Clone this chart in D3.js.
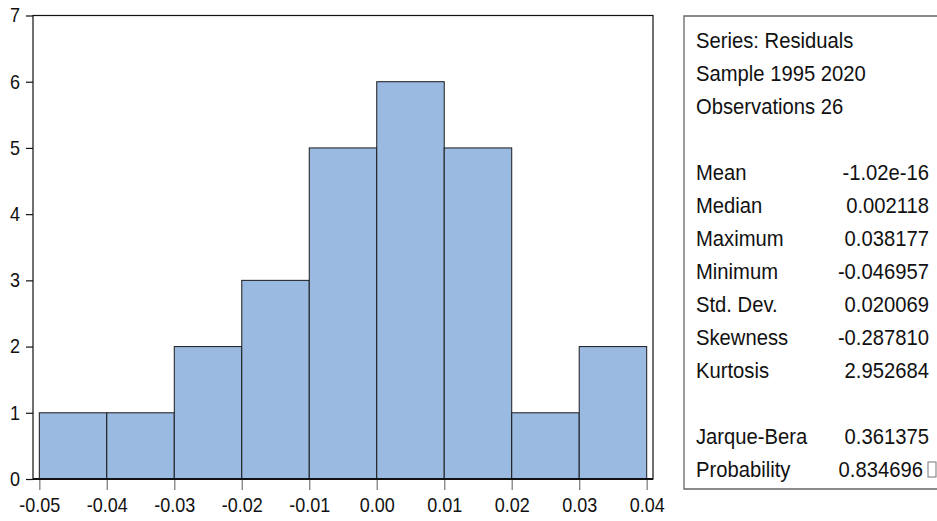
<!DOCTYPE html>
<html>
<head>
<meta charset="utf-8">
<script src="https://cdn.jsdelivr.net/npm/d3@7"></script>
<style>
  html, body { margin: 0; padding: 0; background: #ffffff; }
  svg { display: block; }
  text { font-family: "Liberation Sans", Arial, sans-serif; fill: #111; }
</style>
</head>
<body>
<svg id="chart" width="937" height="521"></svg>
<script>
// Histogram bins of the residuals (lower edge, upper edge, count)
const binStarts = [-0.05, -0.04, -0.03, -0.02, -0.01, 0.00, 0.01, 0.02, 0.03];
const binEnds   = [-0.04, -0.03, -0.02, -0.01, 0.00, 0.01, 0.02, 0.03, 0.04];
const counts    = [1, 1, 2, 3, 5, 6, 5, 1, 2];

const xTicks = [-0.05, -0.04, -0.03, -0.02, -0.01, 0.00, 0.01, 0.02, 0.03, 0.04];
const yTicks = [0, 1, 2, 3, 4, 5, 6, 7];

// Descriptive statistics panel
const headerLines = ["Series: Residuals", "Sample 1995 2020", "Observations 26"];
const statNames  = ["Mean", "Median", "Maximum", "Minimum", "Std. Dev.", "Skewness", "Kurtosis"];
const statValues = ["-1.02e-16", "0.002118", "0.038177", "-0.046957", "0.020069", "-0.287810", "2.952684"];
const testNames  = ["Jarque-Bera", "Probability"];
const testValues = ["0.361375", "0.834696"];

const svg = d3.select("#chart");

const frame = { left: 33, top: 15.5, right: 653, bottom: 479 };
const narrow = 0.9;   // horizontal squeeze for the condensed lettering

const x = d3.scaleLinear().domain([-0.05, 0.04]).range([39.3, 646.7]);
const y = d3.scaleLinear().domain([0, 7]).range([frame.bottom, frame.top]);

// plot frame
svg.append("rect")
  .attr("x", frame.left).attr("y", frame.top)
  .attr("width", frame.right - frame.left).attr("height", frame.bottom - frame.top)
  .attr("fill", "#fff").attr("stroke", "#111").attr("stroke-width", 1.2);

// bars
const bins = binStarts.map((s, i) => ({ x0: s, x1: binEnds[i], n: counts[i] }));
svg.append("g").selectAll("rect").data(bins).join("rect")
  .attr("x", d => x(d.x0))
  .attr("y", d => y(d.n))
  .attr("width", d => x(d.x1) - x(d.x0))
  .attr("height", d => y(0) - y(d.n))
  .attr("fill", "#9bbae1")
  .attr("stroke", "#1a1a1a")
  .attr("stroke-width", 1);

// x axis baseline (heavier)
svg.append("line")
  .attr("x1", frame.left).attr("x2", frame.right)
  .attr("y1", frame.bottom).attr("y2", frame.bottom)
  .attr("stroke", "#111").attr("stroke-width", 2.2);

// x axis
const xAxis = d3.axisBottom(x)
  .tickValues(xTicks)
  .tickSize(10)
  .tickPadding(8)
  .tickFormat(d => d3.format(".2f")(d).replace("−", "-"));
const gx = svg.append("g")
  .attr("transform", `translate(0,${frame.bottom + 1})`)
  .call(xAxis);
gx.select(".domain").remove();
gx.selectAll(".tick line").attr("stroke", "#8a8a8a").attr("stroke-width", 1.4);
gx.selectAll(".tick text")
  .attr("font-size", 20)
  .attr("font-family", "Liberation Sans, Arial, sans-serif")
  .attr("fill", "#111")
  .attr("transform", `scale(${narrow},1)`);

// y axis
const yAxis = d3.axisLeft(y)
  .tickValues(yTicks)
  .tickSize(7)
  .tickPadding(6)
  .tickFormat(d3.format("d"));
const gy = svg.append("g")
  .attr("transform", `translate(${frame.left},0)`)
  .call(yAxis);
gy.select(".domain").remove();
gy.selectAll(".tick line").attr("stroke", "#111").attr("stroke-width", 1.2);
gy.selectAll(".tick text")
  .attr("font-size", 20)
  .attr("font-family", "Liberation Sans, Arial, sans-serif")
  .attr("fill", "#111")
  .attr("x", -13 / narrow)
  .attr("transform", `scale(${narrow},1)`);

// statistics panel
const panel = { left: 684, top: 16, bottom: 489 };
svg.append("path")
  .attr("d", `M945,${panel.top}H${panel.left}V${panel.bottom}H945`)
  .attr("fill", "none").attr("stroke", "#666").attr("stroke-width", 1.3);

const lineH = 33;
const base0 = 48;
const labelX = 696;
const valueX = 929;
const fs = 22;
const sx = 0.92;

const g = svg.append("g").attr("font-size", fs);

function put(txt, px, py, anchor) {
  g.append("text")
    .attr("transform", `translate(${px},${py}) scale(${sx},1)`)
    .attr("text-anchor", anchor || "start")
    .text(txt);
}

headerLines.forEach((t, i) => put(t, labelX, base0 + i * lineH));
statNames.forEach((t, i) => {
  const yy = base0 + (4 + i) * lineH;
  put(t, labelX, yy);
  put(statValues[i], valueX, yy, "end");
});
testNames.forEach((t, i) => {
  const yy = base0 + (12 + i) * lineH;
  put(t, labelX, yy);
  const vx = i === 1 ? valueX - 6 : valueX;
  put(testValues[i], vx, yy, "end");
  if (i === 1) {
    // placeholder box glyph after the probability value
    svg.append("rect")
      .attr("x", vx + 5).attr("y", yy - 15)
      .attr("width", 8).attr("height", 15)
      .attr("fill", "#fff").attr("stroke", "#777").attr("stroke-width", 1);
  }
});
</script>
</body>
</html>
